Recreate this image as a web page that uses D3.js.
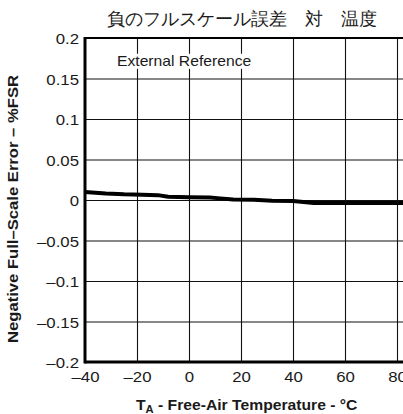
<!DOCTYPE html>
<html>
<head>
<meta charset="utf-8">
<script src="https://cdn.jsdelivr.net/npm/d3@7"></script>
<style>
  html, body { margin: 0; padding: 0; background: #fff; }
  svg { display: block; }
  text { font-family: "Liberation Sans", Arial, Helvetica, sans-serif; fill: #1a1a1a; }
</style>
</head>
<body>
<svg id="chart" width="403" height="414"></svg>
<script>
// Negative full-scale error vs. free-air temperature (external reference)
const titleText = "負のフルスケール誤差　対　温度";
const noteText = "External Reference";

const temps  = [-40, -32, -25, -18, -12, -8, 0, 8, 12, 17, 25, 32, 40, 48, 60, 84];
const errors = [0.0100, 0.0080, 0.0070, 0.0066, 0.0060, 0.0040, 0.0034, 0.0030,
                0.0020, 0.0005, 0.0002, -0.0008, -0.0012, -0.0037, -0.0038, -0.0038];

const xGrid   = [-20, 0, 20, 40, 60, 80, 100];
const xTicks  = [-40, -20, 0, 20, 40, 60, 80];
const xLabels = ["–40", "–20", "0", "20", "40", "60", "80"];
const yTicks  = [-0.2, -0.15, -0.1, -0.05, 0, 0.05, 0.1, 0.15, 0.2];
const yLabels = ["–0.2", "–0.15", "–0.1", "–0.05", "0", "0.05", "0.1", "0.15", "0.2"];

const svg = d3.select("#chart");
const mLeft = 85, mTop = 38, mBottom = 362;
const pxPerDeg = 2.6;
const stretch = 1.12;   // wide glyph proportion

const x = d3.scaleLinear().domain([-40, 120]).range([mLeft, mLeft + 160 * pxPerDeg]);
const y = d3.scaleLinear().domain([-0.2, 0.2]).range([mBottom, mTop]);
const plotW = x(120) - mLeft, plotH = mBottom - mTop;

// grid
const gridX = svg.append("g").attr("transform", `translate(0,${mBottom})`)
  .call(d3.axisBottom(x).tickValues(xGrid).tickSize(-plotH).tickFormat(""));
gridX.select(".domain").remove();
gridX.selectAll("line").attr("stroke", "#111").attr("stroke-width", 1.1);

const gridY = svg.append("g").attr("transform", `translate(${mLeft},0)`)
  .call(d3.axisLeft(y).tickValues(yTicks.slice(1, -1)).tickSize(-plotW).tickFormat(""));
gridY.select(".domain").remove();
gridY.selectAll("line").attr("stroke", "#111").attr("stroke-width", 1.1);

// note label with a white box behind it
const note = svg.append("g").attr("transform", `translate(117,66) scale(${stretch},1)`);
const noteBg = note.append("rect").attr("fill", "#fff");
const noteT = note.append("text").attr("font-size", 14).text(noteText);
const bb = noteT.node().getBBox();
noteBg.attr("x", bb.x - 1).attr("y", bb.y).attr("width", bb.width + 2).attr("height", bb.height);

// frame
svg.append("line").attr("x1", mLeft).attr("x2", x(120)).attr("y1", mTop).attr("y2", mTop)
  .attr("stroke", "#000").attr("stroke-width", 2);
svg.append("line").attr("x1", mLeft).attr("x2", x(120)).attr("y1", mBottom).attr("y2", mBottom)
  .attr("stroke", "#000").attr("stroke-width", 3);
svg.append("line").attr("x1", mLeft).attr("x2", mLeft).attr("y1", mTop - 1).attr("y2", mBottom + 1.5)
  .attr("stroke", "#000").attr("stroke-width", 3);

// curve
svg.append("path")
  .datum(temps.map((t, i) => [t, errors[i]]))
  .attr("fill", "none").attr("stroke", "#000").attr("stroke-width", 4)
  .attr("stroke-linejoin", "round")
  .attr("d", d3.line().x(d => x(d[0])).y(d => y(d[1])));

// tick labels
const axX = svg.append("g").attr("transform", `translate(0,${mBottom})`)
  .call(d3.axisBottom(x).tickValues(xTicks).tickSize(0).tickPadding(0)
    .tickFormat((d, i) => xLabels[i]));
axX.select(".domain").remove();
axX.selectAll("text").attr("font-size", 15).attr("font-family", null).attr("fill", null)
  .attr("y", 20).attr("dy", null).attr("transform", `scale(${stretch},1)`);

const axY = svg.append("g").attr("transform", `translate(${mLeft},0)`)
  .call(d3.axisLeft(y).tickValues(yTicks).tickSize(0).tickPadding(0)
    .tickFormat((d, i) => yLabels[i]));
axY.select(".domain").remove();
axY.selectAll("text").attr("font-size", 15).attr("font-family", null).attr("fill", null)
  .attr("x", -6 / stretch).attr("dy", "0.38em").attr("transform", `scale(${stretch},1)`);

// title
svg.append("text").attr("x", 107).attr("y", 25)
  .attr("font-family", "'Noto Sans CJK JP', sans-serif").attr("font-size", 18.2)
  .text(titleText);

// x axis title
const xt = svg.append("text").attr("transform", `translate(136,410) scale(${stretch},1)`)
  .attr("font-size", 14).attr("font-weight", "bold");
xt.append("tspan").text("T");
xt.append("tspan").attr("font-size", 10).attr("dy", 3).text("A");
xt.append("tspan").attr("dy", -3).text(" - Free-Air Temperature - °C");

// y axis title
svg.append("text").attr("transform", "translate(18,209) rotate(-90)")
  .attr("text-anchor", "middle").attr("font-size", 14).attr("font-weight", "bold")
  .attr("textLength", 268).attr("lengthAdjust", "spacingAndGlyphs")
  .text("Negative Full–Scale Error – %FSR");
</script>
</body>
</html>
